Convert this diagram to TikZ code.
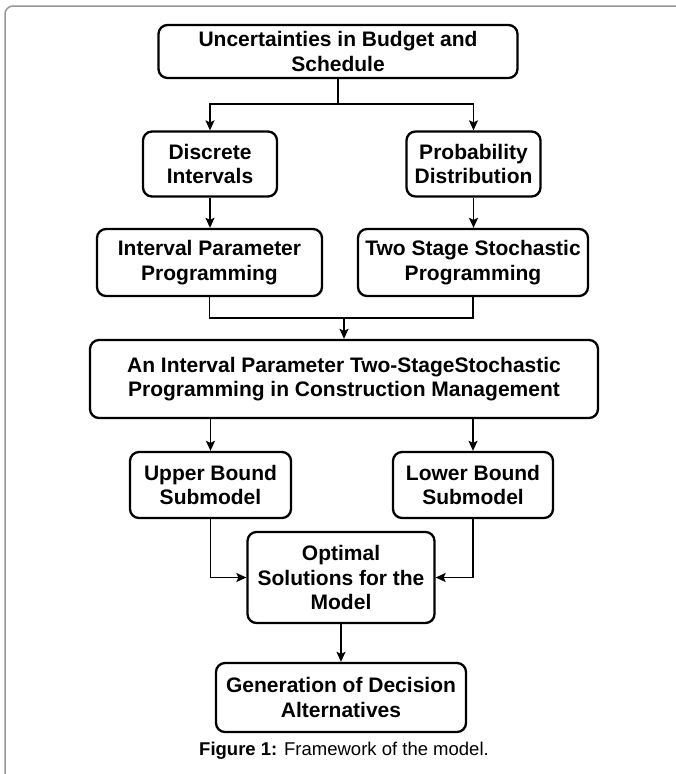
\documentclass[tikz,border=0pt]{standalone}
\usepackage{fontspec}
\setmainfont{Liberation Sans}
\usepackage{xcolor}
\definecolor{framegray}{RGB}{150,150,150}
\usepackage{tikz}
\usetikzlibrary{arrows.meta}
\tikzset{
  stepbox/.style={draw, line width=2.3pt, rounded corners=9pt, align=center,
    inner sep=0pt, font=\bfseries\fontsize{21}{24.5}\selectfont},
  link/.style={line width=1.5pt},
  arr/.style={link, -{Stealth[length=10pt,width=9pt,inset=2pt]}}
}
\begin{document}
\begin{tikzpicture}[x=1pt,y=-1pt]
\useasboundingbox (0,0) rectangle (676,774);
\draw[framegray, line width=1.5pt, rounded corners=8pt] (5,780) -- (5,6) -- (680,6);
\node[stepbox, minimum width=359pt, minimum height=53pt] (unc) at (338,51.5) {Uncertainties in Budget and\\Schedule};
\node[stepbox, minimum width=134pt, minimum height=65pt] (disc) at (210,164) {Discrete\\Intervals};
\node[stepbox, minimum width=134pt, minimum height=65pt] (prob) at (473.5,164) {Probability\\Distribution};
\node[stepbox, minimum width=225pt, minimum height=67pt] (ipp) at (209.5,262.5) {Interval Parameter\\Programming};
\node[stepbox, minimum width=230pt, minimum height=67pt] (tss) at (473,262.5) {Two Stage Stochastic\\Programming};
\node[stepbox, minimum width=508pt, minimum height=78pt] (iptssp) at (344,379) {An Interval Parameter Two-StageStochastic\\Programming in Construction Management};
\node[stepbox, minimum width=161pt, minimum height=66pt] (upper) at (210.5,485) {Upper Bound\\Submodel};
\node[stepbox, minimum width=160pt, minimum height=66pt] (lower) at (473,485) {Lower Bound\\Submodel};
\node[stepbox, minimum width=187pt, minimum height=91pt] (optimal) at (341,577.5) {Optimal\\Solutions for the\\Model};
\node[stepbox, minimum width=250pt, minimum height=69pt] (gen) at (341,697.5) {Generation of Decision\\Alternatives};
\node[font=\fontsize{18.5}{22}\selectfont] (caption) at (344,751) {\textbf{Figure 1:} Framework of the model.};
\coordinate (split) at (338,104);
\coordinate (merge) at (344,318);
\draw[link] (unc.south) -- (split);
\draw[arr] (split) -| (disc.north);
\draw[arr] (split) -| (prob.north);
\draw[arr] (disc.south) -- (disc.south |- ipp.north);
\draw[arr] (prob.south) -- (prob.south |- tss.north);
\draw[link] (ipp.south) |- (merge);
\draw[link] (tss.south) |- (merge);
\draw[arr] (merge) -- (merge |- iptssp.north);
\draw[arr] (upper.north |- iptssp.south) -- (upper.north);
\draw[arr] (lower.north |- iptssp.south) -- (lower.north);
\draw[arr] (upper.south) |- (optimal.west);
\draw[arr] (lower.south) |- (optimal.east);
\draw[arr] (optimal.south) -- (gen.north);
\end{tikzpicture}
\end{document}
